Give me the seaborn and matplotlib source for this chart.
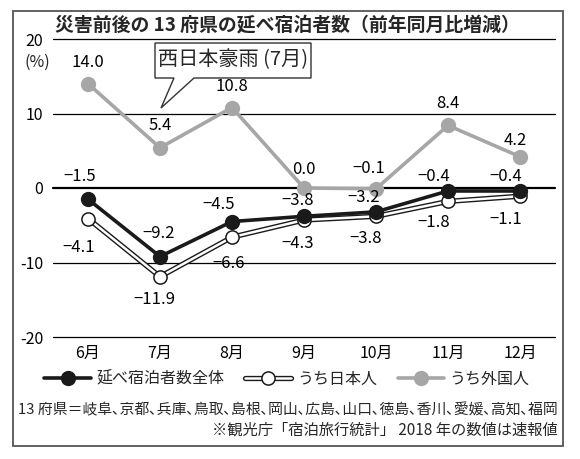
import matplotlib
matplotlib.use("Agg")
import matplotlib.pyplot as plt
from matplotlib.lines import Line2D
from matplotlib.patches import Polygon, Rectangle
from matplotlib.legend_handler import HandlerTuple
import pandas as pd
import seaborn as sns

# data (前年同月比, %)
months = ["6月", "7月", "8月", "9月", "10月", "11月", "12月"]
total = [-1.5, -9.2, -4.5, -3.8, -3.2, -0.4, -0.4]
japanese = [-4.1, -11.9, -6.6, -4.3, -3.8, -1.8, -1.1]
foreign = [14.0, 5.4, 10.8, 0.0, -0.1, 8.4, 4.2]
yticks = [20, 10, 0, -10, -20]
series_names = ["延べ宿泊者数全体", "うち日本人", "うち外国人"]

# label offsets in pixels (dx, dy), tweaked by eye
off_foreign = [(0, 21), (0, 22), (0, 21), (0, 19), (-7, 20), (0, 22), (-5, 16)]
off_total = [(-8, 23), (-1, 23), (-13, 17), (-6, 16), (-12, 14), (-14, 14), (-14, 14)]
off_japan = [(-9, -29), (-6, -23), (-3, -26), (-6, -23), (-10, -22), (-14, -21), (-14, -23)]

GRAY = "#a6a6a6"
DARK = "#1a1a1a"

sns.set_theme(style="white")
plt.rcParams["font.family"] = ["Noto Sans CJK JP", "DejaVu Sans"]

W, H = 580, 459
fig = plt.figure(figsize=(W / 100, H / 100), dpi=100)
ax = fig.add_axes([53 / W, 1 - 337 / H, 502 / W, 298 / H])

df = pd.DataFrame({"month": months, "total": total,
                   "japanese": japanese, "foreign": foreign})

sns.lineplot(data=df, x="month", y="foreign", sort=False, ax=ax, color=GRAY,
             linewidth=2.6, marker="o", markersize=11, markeredgewidth=0, zorder=3)
sns.lineplot(data=df, x="month", y="japanese", sort=False, ax=ax, color=DARK,
             linewidth=3.8, zorder=4)
sns.lineplot(data=df, x="month", y="japanese", sort=False, ax=ax, color="white",
             linewidth=1.8, marker="o", markersize=9.5, markeredgecolor=DARK,
             markeredgewidth=1.1, zorder=5)
sns.lineplot(data=df, x="month", y="total", sort=False, ax=ax, color=DARK,
             linewidth=2.6, marker="o", markersize=11, markeredgewidth=0, zorder=6)

for y in yticks:
    ax.axhline(y, color="black", lw=1.6 if y == 0 else 0.9, zorder=1, clip_on=False)

ax.set_xlim(-0.486, 6.486)
ax.set_ylim(-20, 20)
ax.set_yticks(yticks)
ax.set_yticklabels([str(v) for v in yticks])
ax.set_xlabel("")
ax.set_ylabel("")
for s in ax.spines.values():
    s.set_visible(False)
ax.tick_params(axis="y", length=0, pad=7, labelsize=11.5, labelcolor="black")
ax.tick_params(axis="x", length=0, pad=6, labelsize=11.5, labelcolor="black")
ax.grid(False)


def fmt(v):
    return f"{v:.1f}".replace("-", "−")


for i in range(len(months)):
    for vals, offs in ((foreign, off_foreign), (total, off_total), (japanese, off_japan)):
        ax.annotate(fmt(vals[i]), (i, vals[i]), xytext=offs[i], textcoords="offset pixels",
                    ha="center", va="center", fontsize=12, color="black", zorder=7)

# unit
fig.text(37 / W, 1 - 62 / H, "(%)", ha="center", va="center", fontsize=11.5)

# title
fig.text(55 / W, 1 - 25 / H, "災害前後の 13 府県の延べ宿泊者数（前年同月比増減）",
         ha="left", va="center", fontsize=13.6, fontweight="bold")

# callout
pts = [(155, 78), (174, 78), (161, 108), (194, 78), (311, 78), (311, 43), (155, 43)]
fig.patches.append(Polygon([(px / W, 1 - py / H) for px, py in pts], closed=True,
                           transform=fig.transFigure, fc="white", ec="#333333", lw=1.0,
                           zorder=8))
fig.text(233 / W, 1 - 60 / H, "西日本豪雨 (7月)", ha="center", va="center",
         fontsize=14.5, zorder=9)

# legend
h_total = Line2D([], [], color=DARK, lw=2.6, marker="o", markersize=11, markeredgewidth=0)
h_jp_outer = Line2D([], [], color=DARK, lw=3.8)
h_jp_inner = Line2D([], [], color="white", lw=1.8, marker="o", markersize=9.5,
                    markeredgecolor=DARK, markeredgewidth=1.1)
h_foreign = Line2D([], [], color=GRAY, lw=2.6, marker="o", markersize=11, markeredgewidth=0)
fig.legend([h_total, (h_jp_outer, h_jp_inner), h_foreign], series_names,
           handler_map={tuple: HandlerTuple(ndivide=1, pad=0)},
           loc="center", bbox_to_anchor=(287 / W, 1 - 379 / H), ncol=3, frameon=False,
           fontsize=11.5, handlelength=2.9, handletextpad=0.35, columnspacing=1.3,
           borderpad=0, borderaxespad=0)

# footnotes
fig.text(18 / W, 1 - 410 / H,
         "13 府県＝岐阜､京都､兵庫､鳥取､島根､岡山､広島､山口､徳島､香川､愛媛､高知､福岡",
         ha="left", va="center", fontsize=10.7)
fig.text(558 / W, 1 - 430 / H, "※観光庁「宿泊旅行統計」 2018 年の数値は速報値",
         ha="right", va="center", fontsize=11)

# outer frame
fig.patches.append(Rectangle((13 / W, 1 - 446 / H), 550 / W, 435 / H,
                             transform=fig.transFigure, fill=False, ec="#555555", lw=1.3))

fig.savefig("out.png", dpi=100)
